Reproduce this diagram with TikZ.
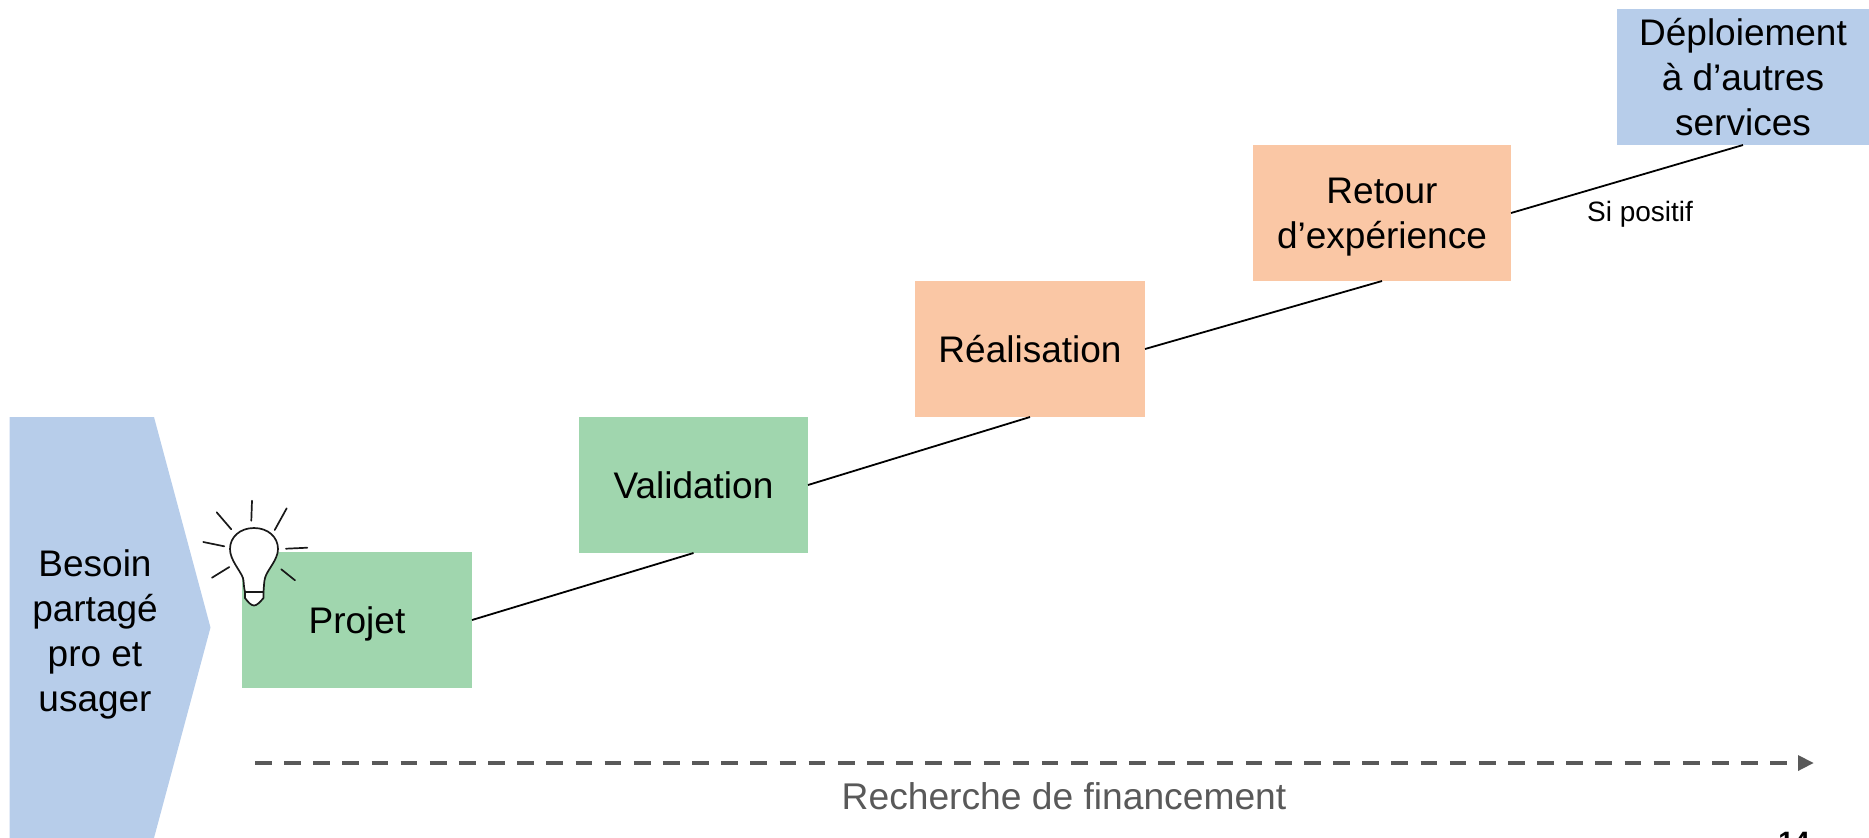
\documentclass[tikz,border=0pt]{standalone}
\usepackage{fontspec}
\setmainfont{Liberation Sans}
\definecolor{bluebox}{HTML}{B7CDEA}
\definecolor{greenbox}{HTML}{A0D6AE}
\definecolor{orangebox}{HTML}{FAC7A5}
\definecolor{arrowgrey}{HTML}{595959}
\tikzset{
  px/.style={x=0.5pt,y=-0.5pt},
  stepbox/.style={inner sep=0pt,outer sep=0pt,align=center,font=\fontsize{18.5}{22.5}\selectfont,anchor=north west,text depth=0pt},
  link/.style={draw=black,line width=0.9pt},
  ray/.style={draw=black!90,line width=0.85pt,line cap=round},
  bulb/.style={draw=black!90,fill=white,line width=0.85pt,line join=round},
}
\begin{document}
\begin{tikzpicture}[px]
\useasboundingbox (0,0) rectangle (1869,837);
\fill[bluebox] (9.5,417) -- (154,417) -- (210.5,627.5) -- (154,838) -- (9.5,838) -- cycle;
\node[stepbox,anchor=center] (besoin) at (95,631) {Besoin\\partagé\\pro et\\usager};
\node[stepbox,fill=greenbox,minimum width=115pt,minimum height=68pt] (projet) at (242,552) {Projet};
\node[stepbox,fill=greenbox,minimum width=114.5pt,minimum height=68pt] (validation) at (579,417) {Validation};
\node[stepbox,fill=orangebox,minimum width=115pt,minimum height=68pt] (realisation) at (915,281) {Réalisation};
\node[stepbox,fill=orangebox,minimum width=129pt,minimum height=68pt] (retour) at (1253,145) {Retour\\d’expérience};
\node[stepbox,fill=bluebox,minimum width=126pt,minimum height=68pt] (deploiement) at (1617,9) {Déploiement\\à d’autres\\services};
\draw[link] (projet.east) -- (validation.south);
\draw[link] (validation.east) -- (realisation.south);
\draw[link] (realisation.east) -- (retour.south);
\draw[link] (retour.east) -- (deploiement.south);
\node[font=\fontsize{14}{16}\selectfont,inner sep=0pt] (sipositif) at (1640,214) {Si positif};
\coordinate (fa) at (255,763);
\coordinate (fb) at (1787,763);
\coordinate (fc) at (1813.5,763);
\draw[arrowgrey,line width=2.3pt,dash pattern=on 8.35pt off 6.22pt] (fa) -- (fb);
\fill[arrowgrey] (fc) -- (1798,755) -- (1798,771) -- cycle;
\node[font=\fontsize{18.6}{22}\selectfont,text=arrowgrey,inner sep=0pt] (financement) at (1064,796) {Recherche de financement};
\node[font=\fontsize{14}{16}\selectfont\bfseries,inner sep=0pt,anchor=base] (page) at (1794,851) {14};
% light bulb
\draw[bulb]
  (245,592) .. controls (243.5,586) and (244,582) .. (243,578)
  .. controls (240,570) and (230,560) .. (230,549)
  .. controls (230,537) and (240,528) .. (254,528)
  .. controls (268,528) and (278,537) .. (278,549)
  .. controls (278,560) and (267,570) .. (265,578)
  .. controls (264,582) and (264,586) .. (263.5,592) -- cycle;
\draw[bulb]
  (245,592) -- (245,598) .. controls (248,602) and (251,605.5) .. (254,605.5)
  .. controls (257,605.5) and (260,602) .. (263.5,598) -- (263.5,592) -- cycle;
\draw[ray] (252,500.7) -- (251.3,520.7);
\draw[ray] (286.7,508.3) -- (274.7,530);
\draw[ray] (307.3,547.7) -- (286,548.7);
\draw[ray] (295,580.3) -- (281.3,569.3);
\draw[ray] (216.7,512.3) -- (231.3,529.3);
\draw[ray] (203.3,542) -- (224.3,546.3);
\draw[ray] (212,577.7) -- (229.3,567);
\end{tikzpicture}
\end{document}
